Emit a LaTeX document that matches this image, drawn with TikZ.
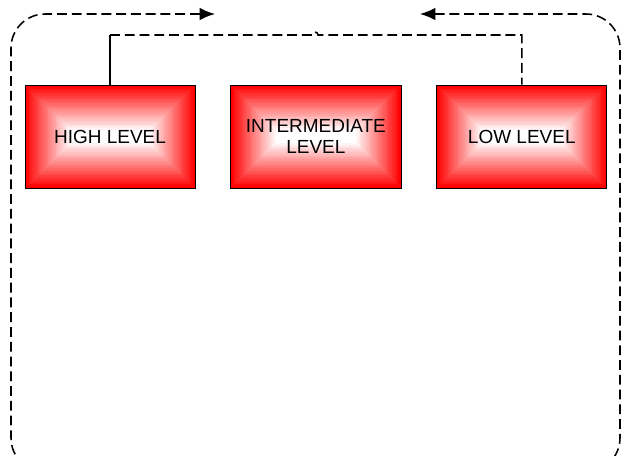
\documentclass[tikz,border=0pt]{standalone}
\usepackage{fontspec}
\setmainfont{Liberation Sans}
\usetikzlibrary{positioning,arrows.meta}

\begin{document}
\begin{tikzpicture}[
                x=0.025cm, y=-0.025cm,        % one unit per pixel
                node distance=0.875cm,
                level/.style={
                    rectangle,
                    draw=black,
                    line width=0.6pt,
                    minimum width=4.25cm,
                    minimum height=2.575cm,
                    align=center,
                    font=\fontsize{13.5}{14}\selectfont,
                    path picture={
                        \foreach \k [evaluate=\k as \p using {100-4*\k}] in {0,...,25}
                            \fill[red!\p!white]
                                ([xshift=\k*0.045cm, yshift=\k*0.045cm]path picture bounding box.south west)
                                rectangle
                                ([xshift=-\k*0.045cm, yshift=-\k*0.045cm]path picture bounding box.north east);
                    }
                },
                dashline/.style={line width=1.1pt, dash pattern=on 7pt off 3.5pt},
                arrow/.style={dashline, {Latex[length=11pt,width=9pt]}-{Latex[length=11pt,width=9pt]}}
            ]
                \useasboundingbox (0,0) rectangle (631,455);
                \clip (0,0) rectangle (631,455);

                % levels
                \node[level] (high) at (110,136.5) {HIGH LEVEL};
                \node[level, right=of high] (mid) {INTERMEDIATE\\[1.5pt]LEVEL};
                \node[level, right=of mid] (low) {LOW LEVEL};

                % loop ends
                \coordinate (arrL) at (215,14);
                \coordinate (arrR) at (420,14);

                % outer loop
                \draw[arrow, rounded corners=0.85cm]
                    (arrR) -- (620,14) -- (620,472) -- (11,472) -- (11,14) -- (arrL);

                % link between levels
                \draw[line width=1.1pt] (high.north) -- (110,35) coordinate (hop);
                \draw[dashline] (hop) -- (312,35) arc[start angle=180, end angle=360, radius=3]
                    -- (low.north |- hop) -- (low.north);
            \end{tikzpicture}
\end{document}
